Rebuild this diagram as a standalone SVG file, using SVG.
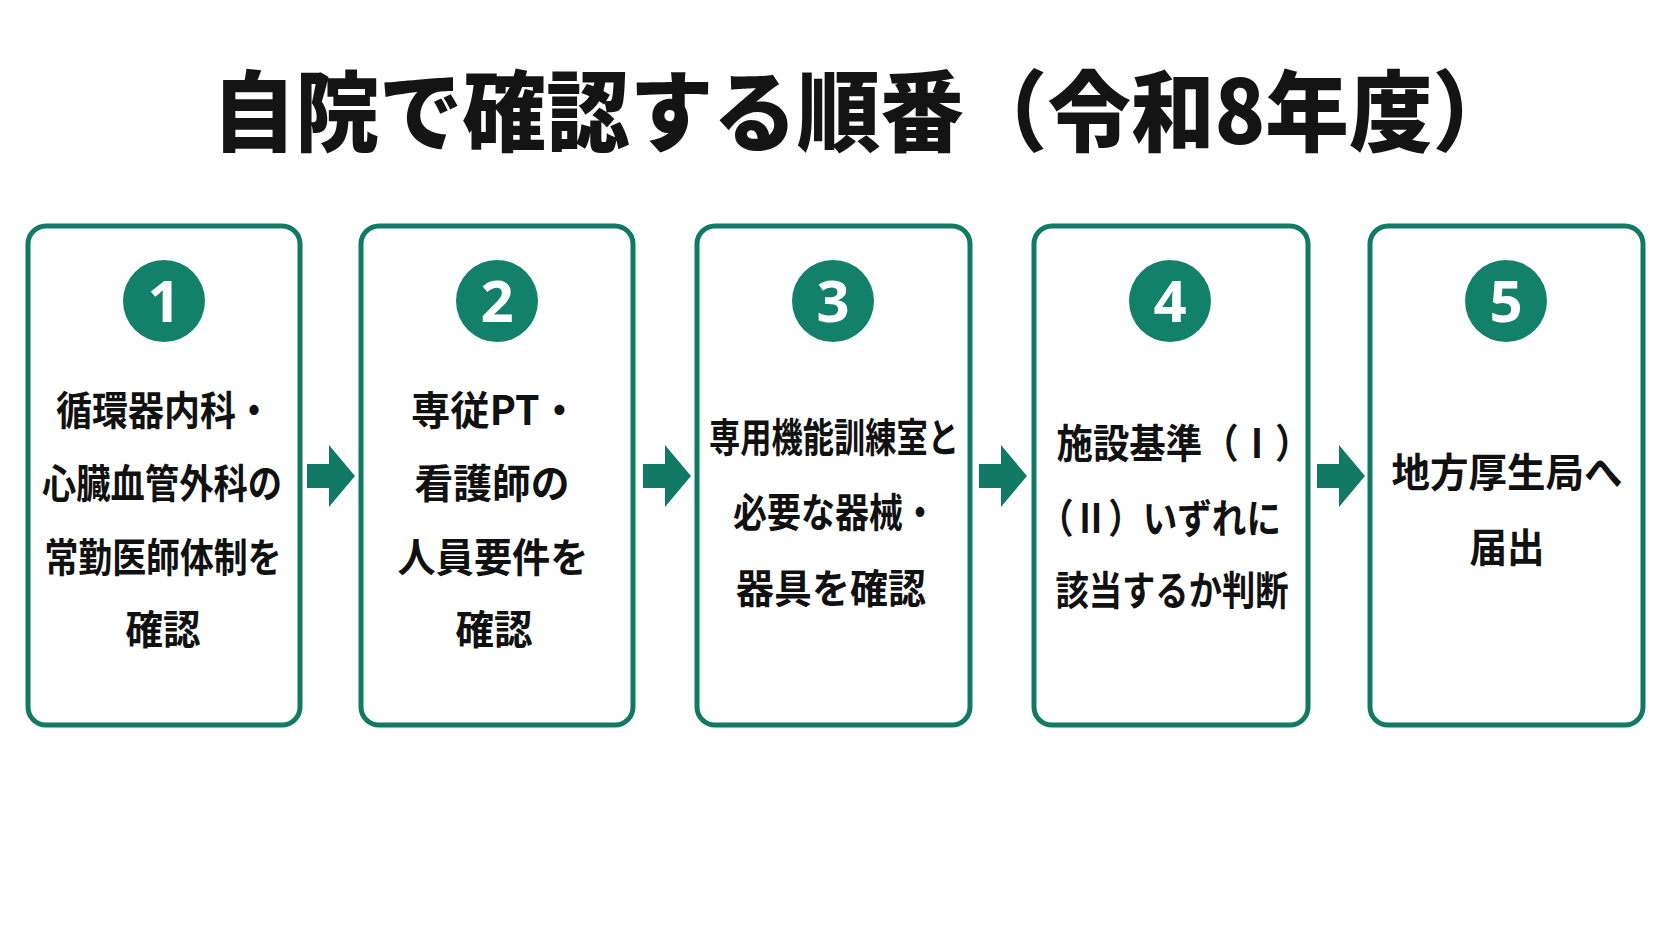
<svg xmlns="http://www.w3.org/2000/svg" width="1672" height="941" viewBox="0 0 1672 941">
  <style>
    .box { fill: #ffffff; stroke: #127a64; stroke-width: 5; }
    .badge { fill: #13806a; }
    .num { fill: #ffffff; font-family: "Noto Sans", "Liberation Sans", sans-serif; font-weight: 700; font-size: 58px; text-anchor: middle; }
    .lbl { fill: #111111; font-family: "Noto Sans CJK JP", "Noto Sans", sans-serif; font-weight: 700; font-size: 40px; text-anchor: middle; dominant-baseline: central; }
    .title { fill: #141414; font-family: "Noto Sans CJK JP", "Noto Sans", sans-serif; font-weight: 900; font-size: 88px; dominant-baseline: central; }
    .arrow { fill: #127a64; }
  </style>
  <rect width="1672" height="941" fill="#ffffff"/>
  <text class="title" x="212" y="105" textLength="1304" lengthAdjust="spacingAndGlyphs">自院で確認する順番（令和8年度）</text>

  <g id="connectors">
    <polygon class="arrow" points="307,464 329,464 329,445 355,476 329,507 329,488 307,488"/>
    <polygon class="arrow" points="643,464 665,464 665,445 691,476 665,507 665,488 643,488"/>
    <polygon class="arrow" points="979,464 1001,464 1001,445 1027,476 1001,507 1001,488 979,488"/>
    <polygon class="arrow" points="1317,464 1339,464 1339,445 1365,476 1339,507 1339,488 1317,488"/>
  </g>

  <g id="step1">
    <rect class="box" x="28" y="226" width="272" height="499" rx="18"/>
    <circle class="badge" cx="164" cy="301" r="41"/>
    <text class="num" x="164" y="322">1</text>
    <text class="lbl" x="164" y="408" textLength="216" lengthAdjust="spacingAndGlyphs">循環器内科・</text>
    <text class="lbl" x="162" y="481" textLength="240" lengthAdjust="spacingAndGlyphs">心臓血管外科の</text>
    <text class="lbl" x="163" y="555" textLength="237" lengthAdjust="spacingAndGlyphs">常勤医師体制を</text>
    <text class="lbl" x="163" y="627" textLength="75" lengthAdjust="spacingAndGlyphs">確認</text>
  </g>

  <g id="step2">
    <rect class="box" x="361" y="226" width="272" height="499" rx="18"/>
    <circle class="badge" cx="497" cy="301" r="41"/>
    <text class="num" x="497" y="322">2</text>
    <text class="lbl" x="495" y="408" textLength="168" lengthAdjust="spacingAndGlyphs">専従PT・</text>
    <text class="lbl" x="492" y="481" textLength="155" lengthAdjust="spacingAndGlyphs">看護師の</text>
    <text class="lbl" x="493" y="555" textLength="191" lengthAdjust="spacingAndGlyphs">人員要件を</text>
    <text class="lbl" x="494" y="627" textLength="77" lengthAdjust="spacingAndGlyphs">確認</text>
  </g>

  <g id="step3">
    <rect class="box" x="697" y="226" width="273" height="499" rx="18"/>
    <circle class="badge" cx="833" cy="301" r="41"/>
    <text class="num" x="833" y="322">3</text>
    <text class="lbl" x="834" y="435" textLength="250" lengthAdjust="spacingAndGlyphs">専用機能訓練室と</text>
    <text class="lbl" x="835" y="510" textLength="204" lengthAdjust="spacingAndGlyphs">必要な器械・</text>
    <text class="lbl" x="831" y="586" textLength="190" lengthAdjust="spacingAndGlyphs">器具を確認</text>
  </g>

  <g id="step4">
    <rect class="box" x="1034" y="226" width="274" height="499" rx="18"/>
    <circle class="badge" cx="1170" cy="301" r="41"/>
    <text class="num" x="1170" y="322">4</text>
    <text class="lbl" x="1184" y="441" textLength="255" lengthAdjust="spacingAndGlyphs">施設基準（Ⅰ）</text>
    <text class="lbl" x="1160" y="516" textLength="242" lengthAdjust="spacingAndGlyphs">（Ⅱ）いずれに</text>
    <text class="lbl" x="1172" y="588" textLength="233" lengthAdjust="spacingAndGlyphs">該当するか判断</text>
  </g>

  <g id="step5">
    <rect class="box" x="1370" y="226" width="273" height="499" rx="18"/>
    <circle class="badge" cx="1506" cy="301" r="41"/>
    <text class="num" x="1506" y="322">5</text>
    <text class="lbl" x="1507" y="470" textLength="231" lengthAdjust="spacingAndGlyphs">地方厚生局へ</text>
    <text class="lbl" x="1507" y="545" textLength="75" lengthAdjust="spacingAndGlyphs">届出</text>
  </g>
</svg>
